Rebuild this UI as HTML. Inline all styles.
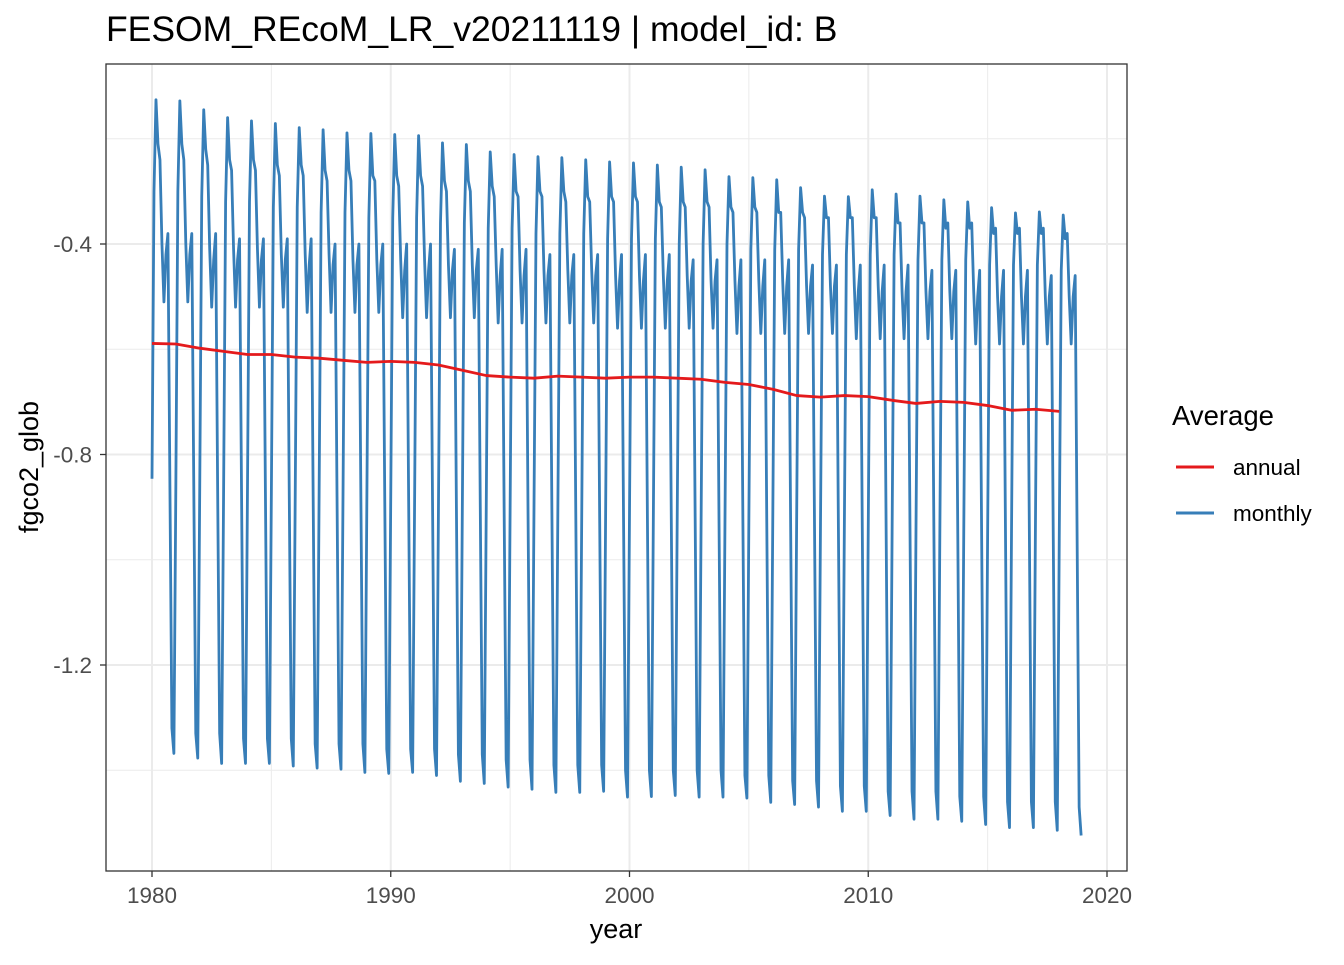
<!DOCTYPE html>
<html><head><meta charset="utf-8"><style>
body{margin:0;background:#fff;font-family:"Liberation Sans",sans-serif}
</style></head><body>
<svg id="chart" width="1344" height="960" xmlns="http://www.w3.org/2000/svg" font-family="Liberation Sans, sans-serif">
<text x="106" y="41" font-size="35.5" fill="#000">FESOM_REcoM_LR_v20211119 | model_id: B</text>
<rect x="106" y="64" width="1021" height="807" fill="#fff"/>
<g id="grid"></g>
<g id="series"></g>
<rect x="106" y="64" width="1021" height="807" fill="none" stroke="#333" stroke-width="1.3"/>
<g id="axes"></g>
<text x="616" y="938" font-size="27" text-anchor="middle">year</text>
<text transform="translate(38,467) rotate(-90)" font-size="27" text-anchor="middle">fgco2_glob</text>
<g>
<text x="1172" y="425" font-size="27.5">Average</text>
<line x1="1176" y1="467" x2="1214" y2="467" stroke="#e41a1c" stroke-width="3"/>
<text x="1233" y="475" font-size="22.5">annual</text>
<line x1="1176" y1="513" x2="1214" y2="513" stroke="#377eb8" stroke-width="3"/>
<text x="1233" y="521" font-size="22.5">monthly</text>
</g>
</svg>
<script>
const years=[];for(let y=1980;y<=2018;y++)years.push(y);
const xTicks=[1980,1990,2000,2010,2020];
const yTicks=[-0.4,-0.8,-1.2];
const yTickLabels=["-0.4","-0.8","-1.2"];
const janV=[-0.846,-0.85,-0.86,-0.86,-0.86,-0.87,-0.87,-0.87,-0.88,-0.88,-0.88,-0.88,-0.89,-0.89,-0.90,-0.90,-0.90,-0.90,-0.91,-0.91,-0.91,-0.91,-0.91,-0.92,-0.92,-0.92,-0.93,-0.93,-0.93,-0.93,-0.94,-0.94,-0.94,-0.94,-0.95,-0.95,-0.95,-0.95,-0.96];
const febV=[-0.30,-0.30,-0.31,-0.32,-0.32,-0.33,-0.33,-0.34,-0.34,-0.35,-0.35,-0.35,-0.36,-0.36,-0.37,-0.37,-0.38,-0.38,-0.38,-0.39,-0.39,-0.39,-0.40,-0.40,-0.40,-0.41,-0.41,-0.41,-0.42,-0.42,-0.42,-0.42,-0.43,-0.43,-0.43,-0.44,-0.44,-0.44,-0.45];
const marV=[-0.126,-0.128,-0.145,-0.160,-0.166,-0.171,-0.179,-0.183,-0.189,-0.190,-0.192,-0.194,-0.208,-0.211,-0.225,-0.230,-0.234,-0.236,-0.240,-0.244,-0.246,-0.250,-0.254,-0.259,-0.272,-0.274,-0.278,-0.293,-0.309,-0.310,-0.297,-0.305,-0.309,-0.316,-0.320,-0.331,-0.341,-0.339,-0.345];
const aprV=[-0.21,-0.21,-0.22,-0.24,-0.24,-0.25,-0.25,-0.26,-0.26,-0.27,-0.27,-0.27,-0.28,-0.28,-0.29,-0.30,-0.30,-0.30,-0.31,-0.31,-0.31,-0.32,-0.32,-0.32,-0.33,-0.33,-0.34,-0.34,-0.35,-0.35,-0.35,-0.36,-0.36,-0.37,-0.37,-0.38,-0.38,-0.38,-0.39];
const mayV=[-0.24,-0.24,-0.25,-0.26,-0.26,-0.27,-0.27,-0.28,-0.28,-0.28,-0.29,-0.29,-0.30,-0.30,-0.31,-0.31,-0.31,-0.32,-0.32,-0.32,-0.32,-0.33,-0.33,-0.33,-0.34,-0.34,-0.34,-0.35,-0.35,-0.35,-0.35,-0.36,-0.36,-0.36,-0.36,-0.37,-0.37,-0.37,-0.38];
const junV=[-0.40,-0.40,-0.41,-0.41,-0.41,-0.42,-0.42,-0.42,-0.43,-0.43,-0.43,-0.43,-0.44,-0.44,-0.44,-0.45,-0.45,-0.45,-0.45,-0.46,-0.46,-0.46,-0.46,-0.47,-0.47,-0.47,-0.47,-0.48,-0.48,-0.48,-0.48,-0.49,-0.49,-0.49,-0.49,-0.50,-0.50,-0.50,-0.50];
const julV=[-0.51,-0.51,-0.52,-0.52,-0.52,-0.52,-0.53,-0.53,-0.53,-0.53,-0.54,-0.54,-0.54,-0.54,-0.55,-0.55,-0.55,-0.55,-0.55,-0.56,-0.56,-0.56,-0.56,-0.56,-0.57,-0.57,-0.57,-0.57,-0.57,-0.58,-0.58,-0.58,-0.58,-0.58,-0.59,-0.59,-0.59,-0.59,-0.59];
const augV=[-0.42,-0.42,-0.43,-0.43,-0.43,-0.43,-0.44,-0.44,-0.44,-0.44,-0.45,-0.45,-0.45,-0.45,-0.46,-0.46,-0.46,-0.46,-0.46,-0.47,-0.47,-0.47,-0.47,-0.47,-0.48,-0.48,-0.48,-0.48,-0.48,-0.49,-0.49,-0.49,-0.49,-0.49,-0.50,-0.50,-0.50,-0.50,-0.50];
const sepV=[-0.38,-0.38,-0.38,-0.39,-0.39,-0.39,-0.39,-0.40,-0.40,-0.40,-0.40,-0.40,-0.41,-0.41,-0.41,-0.41,-0.42,-0.42,-0.42,-0.42,-0.42,-0.42,-0.43,-0.43,-0.43,-0.43,-0.43,-0.44,-0.44,-0.44,-0.44,-0.44,-0.45,-0.45,-0.45,-0.45,-0.45,-0.46,-0.46];
const octV=[-0.86,-0.86,-0.87,-0.87,-0.87,-0.88,-0.88,-0.88,-0.89,-0.89,-0.89,-0.89,-0.90,-0.90,-0.91,-0.91,-0.91,-0.91,-0.92,-0.92,-0.92,-0.92,-0.92,-0.93,-0.93,-0.93,-0.94,-0.94,-0.94,-0.94,-0.95,-0.95,-0.95,-0.95,-0.96,-0.96,-0.96,-0.96,-0.97];
const novV=[-1.32,-1.33,-1.33,-1.34,-1.34,-1.34,-1.35,-1.35,-1.35,-1.36,-1.36,-1.36,-1.37,-1.37,-1.38,-1.38,-1.39,-1.39,-1.39,-1.40,-1.40,-1.40,-1.40,-1.40,-1.41,-1.41,-1.42,-1.42,-1.43,-1.43,-1.44,-1.44,-1.44,-1.45,-1.45,-1.46,-1.46,-1.46,-1.47];
const decV=[-1.368,-1.377,-1.387,-1.387,-1.387,-1.392,-1.396,-1.398,-1.404,-1.406,-1.404,-1.410,-1.421,-1.425,-1.432,-1.436,-1.442,-1.442,-1.440,-1.451,-1.450,-1.448,-1.451,-1.451,-1.453,-1.461,-1.465,-1.470,-1.478,-1.478,-1.486,-1.493,-1.493,-1.497,-1.503,-1.509,-1.509,-1.514,-1.524];
const annualV=[-0.589,-0.590,-0.598,-0.604,-0.610,-0.610,-0.615,-0.617,-0.621,-0.625,-0.623,-0.625,-0.630,-0.640,-0.650,-0.653,-0.655,-0.651,-0.653,-0.655,-0.653,-0.653,-0.655,-0.657,-0.663,-0.667,-0.676,-0.688,-0.691,-0.688,-0.690,-0.697,-0.703,-0.699,-0.701,-0.707,-0.716,-0.714,-0.718];

const NS='http://www.w3.org/2000/svg';
const X=t=>152+(t-1980)*(1107-152)/40;
const Y=v=>244+(-0.4-v)*(665-244)/0.8;
function mk(tag,attrs,parent){const e=document.createElementNS(NS,tag);for(const k in attrs)e.setAttribute(k,attrs[k]);parent.appendChild(e);return e;}
const grid=document.getElementById('grid'),ser=document.getElementById('series'),axes=document.getElementById('axes');
[-0.2,-0.6,-1.0,-1.4].forEach(v=>{const l=mk('line',{x1:106,x2:1127,y1:Y(v),y2:Y(v),stroke:'#ebebeb','stroke-width':1},grid);

});
[1985,1995,2005,2015].forEach(t=>{const l=mk('line',{x1:X(t),x2:X(t),y1:64,y2:871,stroke:'#ebebeb','stroke-width':1},grid);

});
yTicks.forEach((v,i)=>{const l=mk('line',{x1:106,x2:1127,y1:Y(v),y2:Y(v),stroke:'#ebebeb','stroke-width':2},grid);


const tk=mk('line',{x1:100,x2:106,y1:Y(v),y2:Y(v),stroke:'#333','stroke-width':1.3},axes);


const t=mk('text',{x:92,y:Y(v)+8,'font-size':22.5,fill:'#4d4d4d','text-anchor':'end'},axes);t.textContent=yTickLabels[i];

});
xTicks.forEach(v=>{const l=mk('line',{x1:X(v),x2:X(v),y1:64,y2:871,stroke:'#ebebeb','stroke-width':2},grid);


const tk=mk('line',{x1:X(v),x2:X(v),y1:871,y2:877,stroke:'#333','stroke-width':1.3},axes);


const t=mk('text',{x:X(v),y:903,'font-size':22.5,fill:'#4d4d4d','text-anchor':'middle'},axes);t.textContent=String(v);

});
const months=[janV,febV,marV,aprV,mayV,junV,julV,augV,sepV,octV,novV,decV];
let pts=[];years.forEach((yr,i)=>{months.forEach((arr,m)=>{pts.push(X(yr+m/12).toFixed(2)+','+Y(arr[i]).toFixed(2));});});
const mp=mk('polyline',{points:pts.join(' '),fill:'none',stroke:'#377eb8','stroke-width':2.8,'stroke-linejoin':'round'},ser);


const ap=mk('polyline',{points:years.map((yr,i)=>X(yr).toFixed(2)+','+Y(annualV[i]).toFixed(2)).join(' '),fill:'none',stroke:'#e41a1c','stroke-width':2.8,'stroke-linejoin':'round'},ser);


</script>
</body></html>
